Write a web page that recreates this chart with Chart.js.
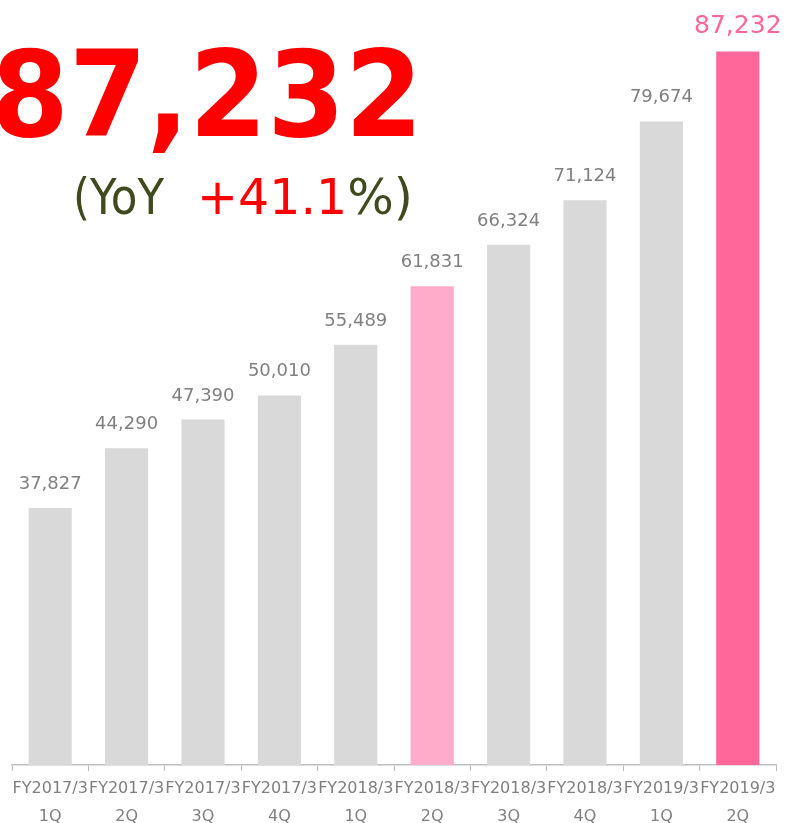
<!DOCTYPE html>
<html>
<head>
<meta charset="utf-8">
<script src="https://cdn.jsdelivr.net/npm/chart.js@4.4.0/dist/chart.umd.min.js"></script>
<style>
    html, body { margin: 0; background: #fff; overflow: hidden; }
    #wrap { width: 786px; height: 835px; position: relative; }
</style>
</head>
<body>
<div id="wrap"><canvas id="myChart"></canvas></div>
<script>
// data
const periods = ['FY2017/3', 'FY2017/3', 'FY2017/3', 'FY2017/3', 'FY2018/3', 'FY2018/3', 'FY2018/3', 'FY2018/3', 'FY2019/3', 'FY2019/3'];
const quarters = ['1Q', '2Q', '3Q', '4Q', '1Q', '2Q', '3Q', '4Q', '1Q', '2Q'];
const sales = [37827, 44290, 47390, 50010, 55489, 61831, 66324, 71124, 79674, 87232];
const headline = '87,232';
const yoyLabel = '(YoY';
const yoyValue = '+41.1';

// colours
const grey = '#d9d9d9';
const lightPink = '#ffabc9';
const pink = '#ff6699';
const barColors = sales.map((v, i) => i == 5 ? lightPink : (i == sales.length - 1 ? pink : grey));

const fmt = v => v.toLocaleString('en-US');

//labels above bars
const valueLabels = {
    id: 'valueLabels',
    afterDatasetsDraw(chart) {
        const ctx = chart.ctx;
        const meta = chart.getDatasetMeta(0);
        ctx.save();
        ctx.textAlign = 'center';
        ctx.textBaseline = 'alphabetic';
        meta.data.forEach((bar, i) => {
            const last = i == sales.length - 1;
            ctx.font = last ? '25px "DejaVu Sans"' : '18px "DejaVu Sans"';
            ctx.fillStyle = last ? pink : '#808080';
            ctx.fillText(fmt(sales[i]), bar.x, bar.y - 19);
        });
        ctx.restore();
    }
};

//big number + yoy
const headlineText = {
    id: 'headlineText',
    afterDraw(chart) {
        const ctx = chart.ctx;
        ctx.save();
        ctx.textBaseline = 'alphabetic';
        ctx.font = 'bold 120px "DejaVu Sans"';
        ctx.fillStyle = '#ff0000';
        ctx.textAlign = 'right';
        ctx.fillText(headline, 423, 136, 432);

        ctx.textAlign = 'left';
        ctx.font = '49px "DejaVu Sans"';
        ctx.fillStyle = '#3f4a1e';
        ctx.fillText(yoyLabel, 73, 214, 91);
        ctx.fillStyle = '#ff0000';
        ctx.fillText(yoyValue, 197, 214);
        const w = ctx.measureText(yoyValue).width;
        ctx.fillStyle = '#3f4a1e';
        ctx.fillText('%)', 197 + w, 214);
        ctx.restore();
    }
};

const ctx = document.getElementById('myChart');

new Chart(ctx, {
    type: 'bar',
    data: {
        labels: periods.map((p, i) => [p, quarters[i]]),
        datasets: [{
            data: sales,
            backgroundColor: barColors,
            categoryPercentage: 1,
            barPercentage: 0.565
        }]
    },
    options: {
        responsive: true,
        maintainAspectRatio: false,
        animation: false,
        layout: {
            padding: { left: 12, right: 10, top: 26, bottom: 0 }
        },
        plugins: {
            legend: { display: false },
            tooltip: { enabled: false }
        },
        scales: {
            x: {
                grid: {
                    display: true,
                    drawOnChartArea: false,
                    color: '#bfbfbf',
                    tickLength: 6
                },
                border: { color: '#bfbfbf', width: 1.5 },
                ticks: {
                    autoSkip: false,
                    maxRotation: 0,
                    minRotation: 0,
                    padding: 4,
                    color: '#7f7f7f',
                    font: { family: 'DejaVu Sans', size: 16, lineHeight: 1.75 }
                }
            },
            y: {
                display: false,
                min: 10000,
                max: 90000
            }
        }
    },
    plugins: [valueLabels, headlineText]
});
</script>
</body>
</html>
